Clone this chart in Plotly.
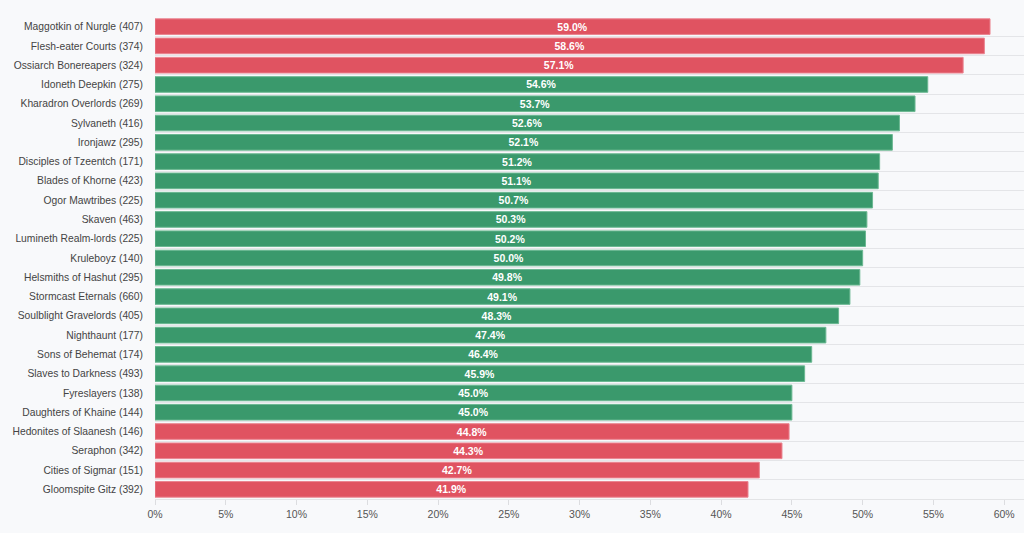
import plotly.graph_objects as go

# faction win rates (games played in brackets)
factions = [
    "Maggotkin of Nurgle (407)", "Flesh-eater Courts (374)", "Ossiarch Bonereapers (324)",
    "Idoneth Deepkin (275)", "Kharadron Overlords (269)", "Sylvaneth (416)", "Ironjawz (295)",
    "Disciples of Tzeentch (171)", "Blades of Khorne (423)", "Ogor Mawtribes (225)",
    "Skaven (463)", "Lumineth Realm-lords (225)", "Kruleboyz (140)", "Helsmiths of Hashut (295)",
    "Stormcast Eternals (660)", "Soulblight Gravelords (405)", "Nighthaunt (177)",
    "Sons of Behemat (174)", "Slaves to Darkness (493)", "Fyreslayers (138)",
    "Daughters of Khaine (144)", "Hedonites of Slaanesh (146)", "Seraphon (342)",
    "Cities of Sigmar (151)", "Gloomspite Gitz (392)",
]
win_rates = [
    59.0, 58.6, 57.1, 54.6, 53.7, 52.6, 52.1, 51.2, 51.1, 50.7, 50.3, 50.2, 50.0,
    49.8, 49.1, 48.3, 47.4, 46.4, 45.9, 45.0, 45.0, 44.8, 44.3, 42.7, 41.9,
]
x_ticks = [0, 5, 10, 15, 20, 25, 30, 35, 40, 45, 50, 55, 60]
x_tick_labels = [f"{t}%" for t in x_ticks]

RED = "#e05361"
GREEN = "#3a996c"
# outside the 45-55% band counts as unbalanced
colors = [RED if (v > 55 or v < 45) else GREEN for v in win_rates]
edge = ["#ea8490" if c == RED else "#6bb892" for c in colors]

FONT = "Liberation Sans, Arial, sans-serif"

fig = go.Figure(go.Bar(
    x=win_rates,
    y=factions,
    orientation="h",
    marker=dict(color=colors, line=dict(color=edge, width=1)),
    text=[f"{v:.1f}%" for v in win_rates],
    textposition="inside",
    insidetextanchor="middle",
    textangle=0,
    constraintext="none",
    textfont=dict(color="white", size=10.5, family=FONT, weight="bold"),
    hovertemplate="%{y}: %{x:.1f}%<extra></extra>",
))

fig.update_layout(
    width=1024,
    height=533,
    margin=dict(l=155, r=0, t=17, b=34),
    paper_bgcolor="#f8f9fb",
    plot_bgcolor="#f8f9fb",
    bargap=0.19,
    showlegend=False,
    font=dict(family=FONT, size=10.5, color="#444"),
)
fig.update_xaxes(
    range=[0, 61.4],
    tickvals=x_ticks,
    ticktext=x_tick_labels,
    showgrid=False,
    zeroline=False,
    showline=True,
    linecolor="#e3e4e6",
    ticks="outside",
    ticklen=5,
    tickcolor="#dcdde0",
    tickfont=dict(color="#555", size=10.5),
)
fig.update_yaxes(
    type="category",
    categoryorder="array",
    categoryarray=factions,
    autorange="reversed",
    tickson="boundaries",
    showgrid=True,
    gridcolor="#e4e5e8",
    gridwidth=1,
    ticks="",
    ticklabelstandoff=11,
    tickfont=dict(color="#444", size=10.3),
)

# drop the default page margin so the chart sits flush in the window
fig.write_html(
    "out.html",
    config={"displayModeBar": False},
    post_script="document.body.style.margin='0';",
)
